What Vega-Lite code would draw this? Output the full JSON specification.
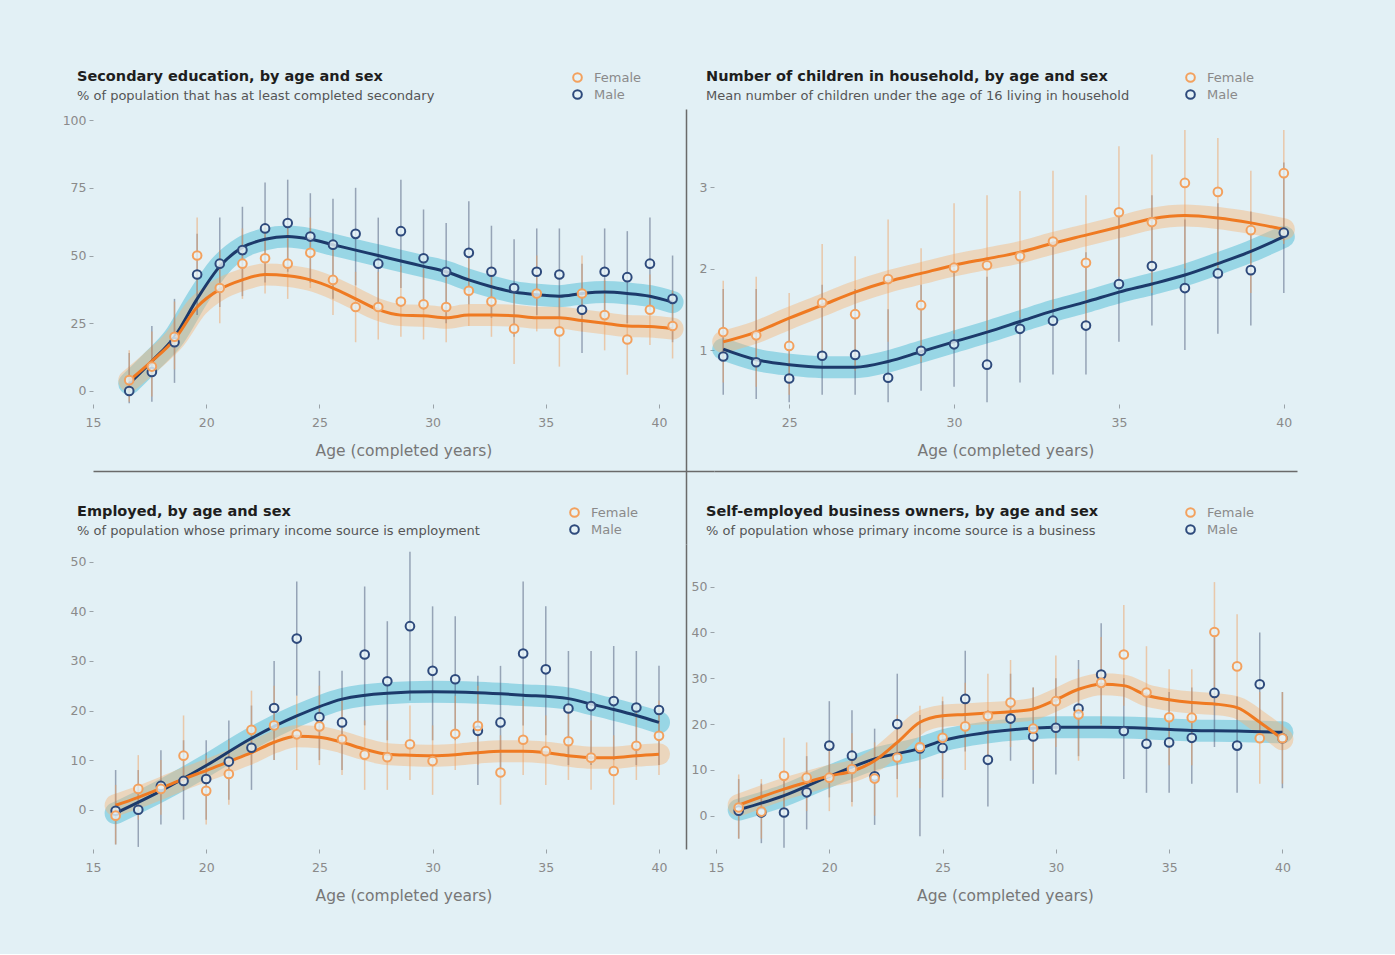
{
  "$schema": "https://vega.github.io/schema/vega-lite/v6.json",
  "background": "#e2f0f5",
  "padding": {"left": 62, "top": 68, "right": 98, "bottom": 50},
  "bounds": "flush",
  "columns": 2,
  "spacing": {"row": 0, "column": 0},
  "datasets": {
    "edu_pts": [
      {"age": 16.6, "sex": "Male", "v": 0, "lo": -4.5, "hi": 14},
      {"age": 17.6, "sex": "Male", "v": 7, "lo": -4, "hi": 24},
      {"age": 18.6, "sex": "Male", "v": 18, "lo": 3, "hi": 34},
      {"age": 19.6, "sex": "Male", "v": 43, "lo": 28, "hi": 58},
      {"age": 20.6, "sex": "Male", "v": 47, "lo": 31, "hi": 64},
      {"age": 21.6, "sex": "Male", "v": 52, "lo": 35, "hi": 68},
      {"age": 22.6, "sex": "Male", "v": 60, "lo": 40, "hi": 77},
      {"age": 23.6, "sex": "Male", "v": 62, "lo": 44, "hi": 78},
      {"age": 24.6, "sex": "Male", "v": 57, "lo": 40, "hi": 73},
      {"age": 25.6, "sex": "Male", "v": 54, "lo": 34, "hi": 71},
      {"age": 26.6, "sex": "Male", "v": 58, "lo": 39, "hi": 75},
      {"age": 27.6, "sex": "Male", "v": 47, "lo": 30, "hi": 64},
      {"age": 28.6, "sex": "Male", "v": 59, "lo": 38, "hi": 78},
      {"age": 29.6, "sex": "Male", "v": 49, "lo": 30, "hi": 67},
      {"age": 30.6, "sex": "Male", "v": 44, "lo": 25, "hi": 62},
      {"age": 31.6, "sex": "Male", "v": 51, "lo": 32, "hi": 70},
      {"age": 32.6, "sex": "Male", "v": 44, "lo": 27, "hi": 61},
      {"age": 33.6, "sex": "Male", "v": 38, "lo": 20, "hi": 56},
      {"age": 34.6, "sex": "Male", "v": 44, "lo": 28, "hi": 60},
      {"age": 35.6, "sex": "Male", "v": 43, "lo": 27, "hi": 60},
      {"age": 36.6, "sex": "Male", "v": 30, "lo": 14, "hi": 47},
      {"age": 37.6, "sex": "Male", "v": 44, "lo": 27, "hi": 60},
      {"age": 38.6, "sex": "Male", "v": 42, "lo": 25, "hi": 59},
      {"age": 39.6, "sex": "Male", "v": 47, "lo": 30, "hi": 64},
      {"age": 40.6, "sex": "Male", "v": 34, "lo": 18, "hi": 50},
      {"age": 16.6, "sex": "Female", "v": 4, "lo": -4, "hi": 15},
      {"age": 17.6, "sex": "Female", "v": 9, "lo": -2, "hi": 22},
      {"age": 18.6, "sex": "Female", "v": 20, "lo": 8, "hi": 33},
      {"age": 19.6, "sex": "Female", "v": 50, "lo": 36, "hi": 64},
      {"age": 20.6, "sex": "Female", "v": 38, "lo": 25, "hi": 52},
      {"age": 21.6, "sex": "Female", "v": 47, "lo": 34, "hi": 60},
      {"age": 22.6, "sex": "Female", "v": 49, "lo": 36, "hi": 62},
      {"age": 23.6, "sex": "Female", "v": 47, "lo": 34, "hi": 60},
      {"age": 24.6, "sex": "Female", "v": 51, "lo": 38, "hi": 64},
      {"age": 25.6, "sex": "Female", "v": 41, "lo": 28, "hi": 55},
      {"age": 26.6, "sex": "Female", "v": 31, "lo": 18, "hi": 44},
      {"age": 27.6, "sex": "Female", "v": 31, "lo": 19, "hi": 44},
      {"age": 28.6, "sex": "Female", "v": 33, "lo": 20, "hi": 46},
      {"age": 29.6, "sex": "Female", "v": 32, "lo": 19, "hi": 45},
      {"age": 30.6, "sex": "Female", "v": 31, "lo": 18, "hi": 44},
      {"age": 31.6, "sex": "Female", "v": 37, "lo": 24, "hi": 50},
      {"age": 32.6, "sex": "Female", "v": 33, "lo": 20, "hi": 46},
      {"age": 33.6, "sex": "Female", "v": 23, "lo": 10, "hi": 36},
      {"age": 34.6, "sex": "Female", "v": 36, "lo": 22, "hi": 50},
      {"age": 35.6, "sex": "Female", "v": 22, "lo": 9, "hi": 35},
      {"age": 36.6, "sex": "Female", "v": 36, "lo": 22, "hi": 50},
      {"age": 37.6, "sex": "Female", "v": 28, "lo": 15, "hi": 41},
      {"age": 38.6, "sex": "Female", "v": 19, "lo": 6, "hi": 32},
      {"age": 39.6, "sex": "Female", "v": 30, "lo": 17, "hi": 43},
      {"age": 40.6, "sex": "Female", "v": 24, "lo": 12, "hi": 37}
    ],
    "edu_fit": [
      {"age": 16.6, "sex": "Male", "v": 2.7}, {"age": 17.6, "sex": "Male", "v": 11}, {"age": 18.6, "sex": "Male", "v": 20},
      {"age": 19.6, "sex": "Male", "v": 34}, {"age": 20.6, "sex": "Male", "v": 46}, {"age": 21.6, "sex": "Male", "v": 53},
      {"age": 22.6, "sex": "Male", "v": 56}, {"age": 23.6, "sex": "Male", "v": 57}, {"age": 24.6, "sex": "Male", "v": 56},
      {"age": 25.6, "sex": "Male", "v": 54}, {"age": 26.6, "sex": "Male", "v": 52}, {"age": 27.6, "sex": "Male", "v": 50},
      {"age": 28.6, "sex": "Male", "v": 48}, {"age": 29.6, "sex": "Male", "v": 46}, {"age": 30.6, "sex": "Male", "v": 44},
      {"age": 31.6, "sex": "Male", "v": 41}, {"age": 32.6, "sex": "Male", "v": 38.5}, {"age": 33.6, "sex": "Male", "v": 36.5},
      {"age": 34.6, "sex": "Male", "v": 35.5}, {"age": 35.6, "sex": "Male", "v": 35}, {"age": 36.6, "sex": "Male", "v": 36},
      {"age": 37.6, "sex": "Male", "v": 36.5}, {"age": 38.6, "sex": "Male", "v": 36}, {"age": 39.6, "sex": "Male", "v": 35},
      {"age": 40.6, "sex": "Male", "v": 32.8},
      {"age": 16.6, "sex": "Female", "v": 3.8}, {"age": 17.6, "sex": "Female", "v": 11}, {"age": 18.6, "sex": "Female", "v": 19},
      {"age": 19.6, "sex": "Female", "v": 31}, {"age": 20.6, "sex": "Female", "v": 37.5}, {"age": 21.6, "sex": "Female", "v": 41},
      {"age": 22.6, "sex": "Female", "v": 43}, {"age": 23.6, "sex": "Female", "v": 42.5}, {"age": 24.6, "sex": "Female", "v": 41},
      {"age": 25.6, "sex": "Female", "v": 38}, {"age": 26.6, "sex": "Female", "v": 34}, {"age": 27.6, "sex": "Female", "v": 30},
      {"age": 28.6, "sex": "Female", "v": 28}, {"age": 29.6, "sex": "Female", "v": 27.8}, {"age": 30.6, "sex": "Female", "v": 27},
      {"age": 31.6, "sex": "Female", "v": 28}, {"age": 32.6, "sex": "Female", "v": 28}, {"age": 33.6, "sex": "Female", "v": 27.8},
      {"age": 34.6, "sex": "Female", "v": 27}, {"age": 35.6, "sex": "Female", "v": 27}, {"age": 36.6, "sex": "Female", "v": 26},
      {"age": 37.6, "sex": "Female", "v": 25}, {"age": 38.6, "sex": "Female", "v": 24}, {"age": 39.6, "sex": "Female", "v": 23.8},
      {"age": 40.6, "sex": "Female", "v": 23}
    ],
    "kids_pts": [
      {"age": 23, "sex": "Male", "v": 0.92, "lo": 0.45, "hi": 1.75},
      {"age": 24, "sex": "Male", "v": 0.85, "lo": 0.4, "hi": 1.75},
      {"age": 25, "sex": "Male", "v": 0.65, "lo": 0.36, "hi": 1.4},
      {"age": 26, "sex": "Male", "v": 0.93, "lo": 0.45, "hi": 1.8},
      {"age": 27, "sex": "Male", "v": 0.94, "lo": 0.45, "hi": 1.75},
      {"age": 28, "sex": "Male", "v": 0.66, "lo": 0.36, "hi": 1.5},
      {"age": 29, "sex": "Male", "v": 0.99, "lo": 0.5, "hi": 1.8},
      {"age": 30, "sex": "Male", "v": 1.07, "lo": 0.55, "hi": 2.0},
      {"age": 31, "sex": "Male", "v": 0.82, "lo": 0.36, "hi": 1.9},
      {"age": 32, "sex": "Male", "v": 1.26, "lo": 0.6, "hi": 2.2},
      {"age": 33, "sex": "Male", "v": 1.36, "lo": 0.7, "hi": 2.3},
      {"age": 34, "sex": "Male", "v": 1.3, "lo": 0.7, "hi": 2.2},
      {"age": 35, "sex": "Male", "v": 1.81, "lo": 1.1, "hi": 2.7},
      {"age": 36, "sex": "Male", "v": 2.03, "lo": 1.3, "hi": 2.9},
      {"age": 37, "sex": "Male", "v": 1.76, "lo": 1.0, "hi": 2.6},
      {"age": 38, "sex": "Male", "v": 1.94, "lo": 1.2, "hi": 2.8},
      {"age": 39, "sex": "Male", "v": 1.98, "lo": 1.3, "hi": 2.7},
      {"age": 40, "sex": "Male", "v": 2.44, "lo": 1.7, "hi": 3.3},
      {"age": 23, "sex": "Female", "v": 1.22, "lo": 0.6, "hi": 1.85},
      {"age": 24, "sex": "Female", "v": 1.18, "lo": 0.55, "hi": 1.9},
      {"age": 25, "sex": "Female", "v": 1.05, "lo": 0.45, "hi": 1.7},
      {"age": 26, "sex": "Female", "v": 1.58, "lo": 0.9, "hi": 2.3},
      {"age": 27, "sex": "Female", "v": 1.44, "lo": 0.75, "hi": 2.15},
      {"age": 28, "sex": "Female", "v": 1.87, "lo": 1.1, "hi": 2.6},
      {"age": 29, "sex": "Female", "v": 1.55, "lo": 0.85, "hi": 2.25},
      {"age": 30, "sex": "Female", "v": 2.01, "lo": 1.2, "hi": 2.8},
      {"age": 31, "sex": "Female", "v": 2.04, "lo": 1.2, "hi": 2.9},
      {"age": 32, "sex": "Female", "v": 2.15, "lo": 1.4, "hi": 2.95},
      {"age": 33, "sex": "Female", "v": 2.33, "lo": 1.5, "hi": 3.2},
      {"age": 34, "sex": "Female", "v": 2.07, "lo": 1.3, "hi": 2.9},
      {"age": 35, "sex": "Female", "v": 2.69, "lo": 1.9, "hi": 3.5},
      {"age": 36, "sex": "Female", "v": 2.57, "lo": 1.7, "hi": 3.4},
      {"age": 37, "sex": "Female", "v": 3.05, "lo": 2.0, "hi": 3.7},
      {"age": 38, "sex": "Female", "v": 2.94, "lo": 2.0, "hi": 3.6},
      {"age": 39, "sex": "Female", "v": 2.47, "lo": 1.7, "hi": 3.2},
      {"age": 40, "sex": "Female", "v": 3.17, "lo": 2.3, "hi": 3.7}
    ],
    "kids_fit": [
      {"age": 23, "sex": "Male", "v": 1.01}, {"age": 24, "sex": "Male", "v": 0.88}, {"age": 25, "sex": "Male", "v": 0.82},
      {"age": 26, "sex": "Male", "v": 0.79}, {"age": 27, "sex": "Male", "v": 0.79}, {"age": 28, "sex": "Male", "v": 0.86},
      {"age": 29, "sex": "Male", "v": 0.98}, {"age": 30, "sex": "Male", "v": 1.1}, {"age": 31, "sex": "Male", "v": 1.22},
      {"age": 32, "sex": "Male", "v": 1.35}, {"age": 33, "sex": "Male", "v": 1.48}, {"age": 34, "sex": "Male", "v": 1.59},
      {"age": 35, "sex": "Male", "v": 1.71}, {"age": 36, "sex": "Male", "v": 1.81}, {"age": 37, "sex": "Male", "v": 1.92},
      {"age": 38, "sex": "Male", "v": 2.06}, {"age": 39, "sex": "Male", "v": 2.21}, {"age": 40, "sex": "Male", "v": 2.39},
      {"age": 23, "sex": "Female", "v": 1.1}, {"age": 24, "sex": "Female", "v": 1.22}, {"age": 25, "sex": "Female", "v": 1.39},
      {"age": 26, "sex": "Female", "v": 1.55}, {"age": 27, "sex": "Female", "v": 1.71}, {"age": 28, "sex": "Female", "v": 1.84},
      {"age": 29, "sex": "Female", "v": 1.94}, {"age": 30, "sex": "Female", "v": 2.04}, {"age": 31, "sex": "Female", "v": 2.12},
      {"age": 32, "sex": "Female", "v": 2.2}, {"age": 33, "sex": "Female", "v": 2.31}, {"age": 34, "sex": "Female", "v": 2.41},
      {"age": 35, "sex": "Female", "v": 2.51}, {"age": 36, "sex": "Female", "v": 2.61}, {"age": 37, "sex": "Female", "v": 2.65},
      {"age": 38, "sex": "Female", "v": 2.62}, {"age": 39, "sex": "Female", "v": 2.56}, {"age": 40, "sex": "Female", "v": 2.48}
    ],
    "emp_pts": [
      {"age": 16, "sex": "Male", "v": -0.2, "lo": -7, "hi": 8},
      {"age": 17, "sex": "Male", "v": 0, "lo": -7.5, "hi": 8},
      {"age": 18, "sex": "Male", "v": 4.8, "lo": -3, "hi": 12},
      {"age": 19, "sex": "Male", "v": 5.8, "lo": -2, "hi": 14},
      {"age": 20, "sex": "Male", "v": 6.2, "lo": -2, "hi": 14},
      {"age": 21, "sex": "Male", "v": 9.7, "lo": 2, "hi": 18},
      {"age": 22, "sex": "Male", "v": 12.5, "lo": 4, "hi": 21},
      {"age": 23, "sex": "Male", "v": 20.5, "lo": 10, "hi": 30},
      {"age": 24, "sex": "Male", "v": 34.5, "lo": 23, "hi": 46},
      {"age": 25, "sex": "Male", "v": 18.7, "lo": 10, "hi": 28},
      {"age": 26, "sex": "Male", "v": 17.6, "lo": 8, "hi": 28},
      {"age": 27, "sex": "Male", "v": 31.3, "lo": 17, "hi": 45},
      {"age": 28, "sex": "Male", "v": 25.9, "lo": 14, "hi": 38},
      {"age": 29, "sex": "Male", "v": 37, "lo": 22, "hi": 52},
      {"age": 30, "sex": "Male", "v": 28, "lo": 14, "hi": 41},
      {"age": 31, "sex": "Male", "v": 26.3, "lo": 14, "hi": 39},
      {"age": 32, "sex": "Male", "v": 15.9, "lo": 5, "hi": 27},
      {"age": 33, "sex": "Male", "v": 17.6, "lo": 7, "hi": 29},
      {"age": 34, "sex": "Male", "v": 31.5, "lo": 17, "hi": 46},
      {"age": 35, "sex": "Male", "v": 28.3, "lo": 15, "hi": 41},
      {"age": 36, "sex": "Male", "v": 20.4, "lo": 9, "hi": 32},
      {"age": 37, "sex": "Male", "v": 20.9, "lo": 9, "hi": 32},
      {"age": 38, "sex": "Male", "v": 21.9, "lo": 10, "hi": 33},
      {"age": 39, "sex": "Male", "v": 20.6, "lo": 9, "hi": 32},
      {"age": 40, "sex": "Male", "v": 20.1, "lo": 9, "hi": 29},
      {"age": 16, "sex": "Female", "v": -1.2, "lo": -7, "hi": 5},
      {"age": 17, "sex": "Female", "v": 4.2, "lo": -2, "hi": 11},
      {"age": 18, "sex": "Female", "v": 4.2, "lo": -1, "hi": 10},
      {"age": 19, "sex": "Female", "v": 10.9, "lo": 4, "hi": 19},
      {"age": 20, "sex": "Female", "v": 3.8, "lo": -3, "hi": 11},
      {"age": 21, "sex": "Female", "v": 7.2, "lo": 1, "hi": 14},
      {"age": 22, "sex": "Female", "v": 16.1, "lo": 9, "hi": 24},
      {"age": 23, "sex": "Female", "v": 17, "lo": 10, "hi": 25},
      {"age": 24, "sex": "Female", "v": 15.2, "lo": 8, "hi": 23},
      {"age": 25, "sex": "Female", "v": 16.8, "lo": 9, "hi": 25},
      {"age": 26, "sex": "Female", "v": 14.2, "lo": 7, "hi": 22},
      {"age": 27, "sex": "Female", "v": 11.1, "lo": 4, "hi": 18},
      {"age": 28, "sex": "Female", "v": 10.6, "lo": 4, "hi": 18},
      {"age": 29, "sex": "Female", "v": 13.2, "lo": 6, "hi": 21},
      {"age": 30, "sex": "Female", "v": 9.8, "lo": 3, "hi": 17},
      {"age": 31, "sex": "Female", "v": 15.3, "lo": 8, "hi": 23},
      {"age": 32, "sex": "Female", "v": 16.9, "lo": 9, "hi": 25},
      {"age": 33, "sex": "Female", "v": 7.5, "lo": 1, "hi": 15},
      {"age": 34, "sex": "Female", "v": 14.1, "lo": 7, "hi": 22},
      {"age": 35, "sex": "Female", "v": 11.8, "lo": 5, "hi": 19},
      {"age": 36, "sex": "Female", "v": 13.8, "lo": 6, "hi": 21},
      {"age": 37, "sex": "Female", "v": 10.5, "lo": 4, "hi": 18},
      {"age": 38, "sex": "Female", "v": 7.8, "lo": 1, "hi": 15},
      {"age": 39, "sex": "Female", "v": 12.9, "lo": 6, "hi": 20},
      {"age": 40, "sex": "Female", "v": 14.9, "lo": 7, "hi": 22}
    ],
    "emp_fit": [
      {"age": 16, "sex": "Male", "v": -0.7}, {"age": 18, "sex": "Male", "v": 3.8}, {"age": 20, "sex": "Male", "v": 8.9},
      {"age": 22, "sex": "Male", "v": 14.4}, {"age": 24, "sex": "Male", "v": 18.9}, {"age": 26, "sex": "Male", "v": 22.3},
      {"age": 28, "sex": "Male", "v": 23.5}, {"age": 30, "sex": "Male", "v": 23.8}, {"age": 32, "sex": "Male", "v": 23.6},
      {"age": 34, "sex": "Male", "v": 23.1}, {"age": 36, "sex": "Male", "v": 22.4}, {"age": 37, "sex": "Male", "v": 21.3},
      {"age": 38, "sex": "Male", "v": 20.2}, {"age": 39, "sex": "Male", "v": 19}, {"age": 40, "sex": "Male", "v": 17.6},
      {"age": 16, "sex": "Female", "v": 0.9}, {"age": 17, "sex": "Female", "v": 2.5}, {"age": 18, "sex": "Female", "v": 4.3},
      {"age": 19, "sex": "Female", "v": 6.2}, {"age": 20, "sex": "Female", "v": 7.9}, {"age": 21, "sex": "Female", "v": 9.7},
      {"age": 22, "sex": "Female", "v": 11.5}, {"age": 23, "sex": "Female", "v": 13.6}, {"age": 24, "sex": "Female", "v": 14.8},
      {"age": 25, "sex": "Female", "v": 14.6}, {"age": 26, "sex": "Female", "v": 13.6}, {"age": 27, "sex": "Female", "v": 12.2},
      {"age": 28, "sex": "Female", "v": 11.2}, {"age": 29, "sex": "Female", "v": 11}, {"age": 30, "sex": "Female", "v": 10.9},
      {"age": 31, "sex": "Female", "v": 11.1}, {"age": 32, "sex": "Female", "v": 11.5}, {"age": 33, "sex": "Female", "v": 11.8},
      {"age": 34, "sex": "Female", "v": 11.8}, {"age": 35, "sex": "Female", "v": 11.5}, {"age": 36, "sex": "Female", "v": 10.9},
      {"age": 37, "sex": "Female", "v": 10.5}, {"age": 38, "sex": "Female", "v": 10.5}, {"age": 39, "sex": "Female", "v": 10.9},
      {"age": 40, "sex": "Female", "v": 11.2}
    ],
    "biz_pts": [
      {"age": 16, "sex": "Male", "v": 1.1, "lo": -5, "hi": 8},
      {"age": 17, "sex": "Male", "v": 0.7, "lo": -6, "hi": 7},
      {"age": 18, "sex": "Male", "v": 0.7, "lo": -7, "hi": 8},
      {"age": 19, "sex": "Male", "v": 5.1, "lo": -3, "hi": 13},
      {"age": 20, "sex": "Male", "v": 15.3, "lo": 4, "hi": 25},
      {"age": 21, "sex": "Male", "v": 13.1, "lo": 3, "hi": 23},
      {"age": 22, "sex": "Male", "v": 8.6, "lo": -2, "hi": 19},
      {"age": 23, "sex": "Male", "v": 20, "lo": 8, "hi": 31},
      {"age": 24, "sex": "Male", "v": 14.7, "lo": -4.5, "hi": 22},
      {"age": 25, "sex": "Male", "v": 14.8, "lo": 4, "hi": 25},
      {"age": 26, "sex": "Male", "v": 25.5, "lo": 14, "hi": 36},
      {"age": 27, "sex": "Male", "v": 12.2, "lo": 2, "hi": 23},
      {"age": 28, "sex": "Male", "v": 21.2, "lo": 12, "hi": 31},
      {"age": 29, "sex": "Male", "v": 17.3, "lo": 7, "hi": 28},
      {"age": 30, "sex": "Male", "v": 19.2, "lo": 9, "hi": 30},
      {"age": 31, "sex": "Male", "v": 23.4, "lo": 13, "hi": 34},
      {"age": 32, "sex": "Male", "v": 30.8, "lo": 20, "hi": 42},
      {"age": 33, "sex": "Male", "v": 18.5, "lo": 8, "hi": 30},
      {"age": 34, "sex": "Male", "v": 15.7, "lo": 5, "hi": 27},
      {"age": 35, "sex": "Male", "v": 16, "lo": 5, "hi": 27},
      {"age": 36, "sex": "Male", "v": 17, "lo": 7, "hi": 28},
      {"age": 37, "sex": "Male", "v": 26.8, "lo": 15, "hi": 39},
      {"age": 38, "sex": "Male", "v": 15.3, "lo": 5, "hi": 26},
      {"age": 39, "sex": "Male", "v": 28.7, "lo": 17, "hi": 40},
      {"age": 40, "sex": "Male", "v": 16.9, "lo": 6, "hi": 27},
      {"age": 16, "sex": "Female", "v": 1.8, "lo": -5, "hi": 9},
      {"age": 17, "sex": "Female", "v": 0.9, "lo": -5, "hi": 8},
      {"age": 18, "sex": "Female", "v": 8.7, "lo": 1, "hi": 17},
      {"age": 19, "sex": "Female", "v": 8.3, "lo": 1, "hi": 16},
      {"age": 20, "sex": "Female", "v": 8.3, "lo": 1, "hi": 16},
      {"age": 21, "sex": "Female", "v": 10.2, "lo": 2, "hi": 18},
      {"age": 22, "sex": "Female", "v": 8.1, "lo": 0, "hi": 16},
      {"age": 23, "sex": "Female", "v": 12.7, "lo": 4, "hi": 22},
      {"age": 24, "sex": "Female", "v": 15, "lo": 6, "hi": 24},
      {"age": 25, "sex": "Female", "v": 17, "lo": 8, "hi": 26},
      {"age": 26, "sex": "Female", "v": 19.5, "lo": 10, "hi": 29},
      {"age": 27, "sex": "Female", "v": 21.8, "lo": 12, "hi": 31},
      {"age": 28, "sex": "Female", "v": 24.7, "lo": 15, "hi": 34},
      {"age": 29, "sex": "Female", "v": 19, "lo": 10, "hi": 28},
      {"age": 30, "sex": "Female", "v": 25, "lo": 15, "hi": 35},
      {"age": 31, "sex": "Female", "v": 22.1, "lo": 12, "hi": 32},
      {"age": 32, "sex": "Female", "v": 29, "lo": 19, "hi": 39},
      {"age": 33, "sex": "Female", "v": 35.2, "lo": 24, "hi": 46},
      {"age": 34, "sex": "Female", "v": 26.9, "lo": 16, "hi": 37},
      {"age": 35, "sex": "Female", "v": 21.5, "lo": 11, "hi": 32},
      {"age": 36, "sex": "Female", "v": 21.4, "lo": 11, "hi": 32},
      {"age": 37, "sex": "Female", "v": 40.1, "lo": 28, "hi": 51},
      {"age": 38, "sex": "Female", "v": 32.6, "lo": 21, "hi": 44},
      {"age": 39, "sex": "Female", "v": 16.9, "lo": 7, "hi": 27},
      {"age": 40, "sex": "Female", "v": 16.9, "lo": 7, "hi": 27}
    ],
    "biz_fit": [
      {"age": 16, "sex": "Male", "v": 1.3}, {"age": 18, "sex": "Male", "v": 4.4}, {"age": 20, "sex": "Male", "v": 8.6},
      {"age": 22, "sex": "Male", "v": 12.4}, {"age": 24, "sex": "Male", "v": 14.7}, {"age": 25, "sex": "Male", "v": 16.4},
      {"age": 27, "sex": "Male", "v": 18.2}, {"age": 29, "sex": "Male", "v": 19.1}, {"age": 30, "sex": "Male", "v": 19.3},
      {"age": 32, "sex": "Male", "v": 19.3}, {"age": 34, "sex": "Male", "v": 19.1}, {"age": 36, "sex": "Male", "v": 18.6},
      {"age": 38, "sex": "Male", "v": 18.5}, {"age": 40, "sex": "Male", "v": 18.2},
      {"age": 16, "sex": "Female", "v": 2.3}, {"age": 18, "sex": "Female", "v": 5.8}, {"age": 19, "sex": "Female", "v": 7.3},
      {"age": 20, "sex": "Female", "v": 8.7}, {"age": 21, "sex": "Female", "v": 9.7}, {"age": 22, "sex": "Female", "v": 12},
      {"age": 23, "sex": "Female", "v": 16}, {"age": 24, "sex": "Female", "v": 20.4}, {"age": 25, "sex": "Female", "v": 21.8},
      {"age": 26, "sex": "Female", "v": 22.1}, {"age": 27, "sex": "Female", "v": 22.4}, {"age": 28, "sex": "Female", "v": 22.7},
      {"age": 29, "sex": "Female", "v": 23.3}, {"age": 30, "sex": "Female", "v": 25.3}, {"age": 31, "sex": "Female", "v": 27.6},
      {"age": 32, "sex": "Female", "v": 28.7}, {"age": 33, "sex": "Female", "v": 28.4}, {"age": 34, "sex": "Female", "v": 26.3},
      {"age": 35, "sex": "Female", "v": 25.3}, {"age": 36, "sex": "Female", "v": 24.7}, {"age": 37, "sex": "Female", "v": 24.4},
      {"age": 38, "sex": "Female", "v": 23.6}, {"age": 39, "sex": "Female", "v": 20.4}, {"age": 40, "sex": "Female", "v": 16.7}
    ]
  },
  "concat": [
    {
      "width": 621, "height": 435,
      "title": {"text": "Secondary education, by age and sex", "subtitle": "% of population that has at least completed secondary", "dx": -16, "dy": 43},
      "layer": [
        {"data": {"name": "edu_fit"}, "mark": {"type": "line", "strokeWidth": 22, "opacity": 0.45, "interpolate": "monotone", "strokeCap": "round"},
         "encoding": {
           "x": {"field": "age", "type": "quantitative", "scale": {"domain": [15, 42.43], "nice": false, "zero": false}, "axis": {"values": [15, 20, 25, 30, 35, 40], "title": "Age (completed years)", "offset": -140}},
           "y": {"field": "v", "type": "quantitative", "scale": {"domain": [-56.5, 104.1], "nice": false, "zero": false}, "axis": {"values": [0, 25, 50, 75, 100], "title": null}},
           "color": {"field": "sex", "type": "nominal", "scale": {"domain": ["Female", "Male"], "range": ["#f6b67a", "#3fb6d3"]}, "legend": null}}},
        {"data": {"name": "edu_pts"}, "mark": {"type": "rule", "strokeWidth": 1.5, "opacity": 0.5},
         "encoding": {
           "x": {"field": "age", "type": "quantitative", "axis": {"orient": "bottom", "offset": -73, "labels": false, "ticks": false, "domain": true, "domainColor": "#6a6a6a", "domainWidth": 1.5, "title": null}},
           "y": {"field": "lo", "type": "quantitative", "axis": {"orient": "right", "offset": -28, "labels": false, "ticks": false, "domain": true, "domainColor": "#6a6a6a", "domainWidth": 1.5, "title": null}}, "y2": {"field": "hi"},
           "color": {"field": "sex", "type": "nominal", "scale": {"domain": ["Female", "Male"], "range": ["#f0a060", "#4a5878"]}, "legend": null}}},
        {"data": {"name": "edu_fit"}, "mark": {"type": "line", "strokeWidth": 3, "interpolate": "monotone"},
         "encoding": {"x": {"field": "age", "type": "quantitative", "axis": null}, "y": {"field": "v", "type": "quantitative", "axis": null},
           "color": {"field": "sex", "type": "nominal", "scale": {"domain": ["Female", "Male"], "range": ["#ef7a22", "#1c3a6b"]}, "legend": null}}},
        {"data": {"name": "edu_pts"}, "mark": {"type": "point", "filled": false, "fill": "#e6f3f7", "fillOpacity": 0.8, "strokeWidth": 2, "size": 75},
         "encoding": {"x": {"field": "age", "type": "quantitative", "axis": null}, "y": {"field": "v", "type": "quantitative", "axis": null},
           "color": {"field": "sex", "type": "nominal", "scale": {"domain": ["Female", "Male"], "range": ["#f3a15e", "#2e4a7c"]}, "legend": {"title": null, "legendX": 478}}}}
      ],
      "resolve": {"scale": {"color": "independent"}, "axis": {"x": "independent", "y": "independent"}}
    },
    {
      "width": 583, "height": 435,
      "title": {"text": "Number of children in household, by age and sex", "subtitle": "Mean number of children under the age of 16 living in household", "dx": -8, "dy": 43},
      "layer": [
        {"data": {"name": "kids_fit"}, "mark": {"type": "line", "strokeWidth": 22, "opacity": 0.45, "interpolate": "monotone", "strokeCap": "round"},
         "encoding": {
           "x": {"field": "age", "type": "quantitative", "scale": {"domain": [22.72, 40.4], "nice": false, "zero": false}, "axis": {"values": [25, 30, 35, 40], "title": "Age (completed years)", "offset": -140}},
           "y": {"field": "v", "type": "quantitative", "scale": {"domain": [-1.38, 3.957], "nice": false, "zero": false}, "axis": {"values": [1, 2, 3], "format": "d", "title": null}},
           "color": {"field": "sex", "type": "nominal", "scale": {"domain": ["Female", "Male"], "range": ["#f6b67a", "#3fb6d3"]}, "legend": null}}},
        {"data": {"name": "kids_pts"}, "mark": {"type": "rule", "strokeWidth": 1.5, "opacity": 0.5},
         "encoding": {
           "x": {"field": "age", "type": "quantitative", "axis": {"orient": "bottom", "offset": -73, "labels": false, "ticks": false, "domain": true, "domainColor": "#6a6a6a", "domainWidth": 1.5, "title": null}},
           "y": {"field": "lo", "type": "quantitative"}, "y2": {"field": "hi"},
           "color": {"field": "sex", "type": "nominal", "scale": {"domain": ["Female", "Male"], "range": ["#f0a060", "#4a5878"]}, "legend": null}}},
        {"data": {"name": "kids_fit"}, "mark": {"type": "line", "strokeWidth": 3, "interpolate": "monotone"},
         "encoding": {"x": {"field": "age", "type": "quantitative", "axis": null}, "y": {"field": "v", "type": "quantitative"},
           "color": {"field": "sex", "type": "nominal", "scale": {"domain": ["Female", "Male"], "range": ["#ef7a22", "#1c3a6b"]}, "legend": null}}},
        {"data": {"name": "kids_pts"}, "mark": {"type": "point", "filled": false, "fill": "#e6f3f7", "fillOpacity": 0.8, "strokeWidth": 2, "size": 75},
         "encoding": {"x": {"field": "age", "type": "quantitative", "axis": null}, "y": {"field": "v", "type": "quantitative"},
           "color": {"field": "sex", "type": "nominal", "scale": {"domain": ["Female", "Male"], "range": ["#f3a15e", "#2e4a7c"]}, "legend": {"title": null, "legendX": 470}}}}
      ],
      "resolve": {"scale": {"color": "independent"}, "axis": {"x": "independent"}}
    },
    {
      "width": 621, "height": 305,
      "title": {"text": "Employed, by age and sex", "subtitle": "% of population whose primary income source is employment", "dx": -16, "dy": 43},
      "layer": [
        {"data": {"name": "emp_fit"}, "mark": {"type": "line", "strokeWidth": 22, "opacity": 0.45, "interpolate": "monotone", "strokeCap": "round"},
         "encoding": {
           "x": {"field": "age", "type": "quantitative", "scale": {"domain": [15, 42.43], "nice": false, "zero": false}, "axis": {"values": [15, 20, 25, 30, 35, 40], "title": "Age (completed years)"}},
           "y": {"field": "v", "type": "quantitative", "scale": {"domain": [-7.92, 53.57], "nice": false, "zero": false}, "axis": {"values": [0, 10, 20, 30, 40, 50], "title": null}},
           "color": {"field": "sex", "type": "nominal", "scale": {"domain": ["Female", "Male"], "range": ["#f6b67a", "#3fb6d3"]}, "legend": null}}},
        {"data": {"name": "emp_pts"}, "mark": {"type": "rule", "strokeWidth": 1.5, "opacity": 0.5},
         "encoding": {
           "x": {"field": "age", "type": "quantitative"},
           "y": {"field": "lo", "type": "quantitative", "axis": {"orient": "right", "offset": -28, "labels": false, "ticks": false, "domain": true, "domainColor": "#6a6a6a", "domainWidth": 1.5, "title": null}}, "y2": {"field": "hi"},
           "color": {"field": "sex", "type": "nominal", "scale": {"domain": ["Female", "Male"], "range": ["#f0a060", "#4a5878"]}, "legend": null}}},
        {"data": {"name": "emp_fit"}, "mark": {"type": "line", "strokeWidth": 3, "interpolate": "monotone"},
         "encoding": {"x": {"field": "age", "type": "quantitative"}, "y": {"field": "v", "type": "quantitative", "axis": null},
           "color": {"field": "sex", "type": "nominal", "scale": {"domain": ["Female", "Male"], "range": ["#ef7a22", "#1c3a6b"]}, "legend": null}}},
        {"data": {"name": "emp_pts"}, "mark": {"type": "point", "filled": false, "fill": "#e6f3f7", "fillOpacity": 0.8, "strokeWidth": 2, "size": 75},
         "encoding": {"x": {"field": "age", "type": "quantitative"}, "y": {"field": "v", "type": "quantitative", "axis": null},
           "color": {"field": "sex", "type": "nominal", "scale": {"domain": ["Female", "Male"], "range": ["#f3a15e", "#2e4a7c"]}, "legend": {"title": null, "legendX": 475}}}}
      ],
      "resolve": {"scale": {"color": "independent"}, "axis": {"y": "independent"}}
    },
    {
      "width": 582, "height": 305,
      "title": {"text": "Self-employed business owners, by age and sex", "subtitle": "% of population whose primary income source is a business", "dx": -8, "dy": 43},
      "encoding": {
        "x": {"field": "age", "type": "quantitative", "scale": {"domain": [14.91, 40.6], "nice": false, "zero": false}, "axis": {"values": [15, 20, 25, 30, 35, 40], "title": "Age (completed years)"}}
      },
      "layer": [
        {"data": {"name": "biz_fit"}, "mark": {"type": "line", "strokeWidth": 22, "opacity": 0.45, "interpolate": "monotone", "strokeCap": "round"},
         "encoding": {"y": {"field": "v", "type": "quantitative", "scale": {"domain": [-7.27, 59.32], "nice": false, "zero": false}, "axis": {"values": [0, 10, 20, 30, 40, 50], "title": null}},
           "color": {"field": "sex", "type": "nominal", "scale": {"domain": ["Female", "Male"], "range": ["#f6b67a", "#3fb6d3"]}, "legend": null}}},
        {"data": {"name": "biz_pts"}, "mark": {"type": "rule", "strokeWidth": 1.5, "opacity": 0.5},
         "encoding": {"y": {"field": "lo", "type": "quantitative"}, "y2": {"field": "hi"},
           "color": {"field": "sex", "type": "nominal", "scale": {"domain": ["Female", "Male"], "range": ["#f0a060", "#4a5878"]}, "legend": null}}},
        {"data": {"name": "biz_fit"}, "mark": {"type": "line", "strokeWidth": 3, "interpolate": "monotone"},
         "encoding": {"y": {"field": "v", "type": "quantitative"},
           "color": {"field": "sex", "type": "nominal", "scale": {"domain": ["Female", "Male"], "range": ["#ef7a22", "#1c3a6b"]}, "legend": null}}},
        {"data": {"name": "biz_pts"}, "mark": {"type": "point", "filled": false, "fill": "#e6f3f7", "fillOpacity": 0.8, "strokeWidth": 2, "size": 75},
         "encoding": {"y": {"field": "v", "type": "quantitative"},
           "color": {"field": "sex", "type": "nominal", "scale": {"domain": ["Female", "Male"], "range": ["#f3a15e", "#2e4a7c"]}, "legend": {"title": null, "legendX": 470}}}}
      ],
      "resolve": {"scale": {"color": "independent"}}
    }
  ],
  "config": {
    "font": "DejaVu Sans",
    "view": {"stroke": null},
    "title": {"anchor": "start", "frame": "group", "fontSize": 14.5, "fontWeight": "bold", "color": "#1e1e1e", "subtitleFontSize": 13, "subtitleColor": "#555555", "subtitlePadding": 6, "offset": 10},
    "axis": {"grid": false, "domain": false, "tickColor": "#9aa3a8", "tickSize": 4, "labelColor": "#8a8a8a", "labelFontSize": 12.5, "labelFlush": false, "titleColor": "#777777", "titleFontSize": 15.5, "titleFontWeight": "normal"},
    "axisX": {"labelPadding": 8, "titlePadding": 15},
    "axisY": {"labelPadding": 3},
    "legend": {"orient": "none", "legendX": 475, "legendY": -38, "labelColor": "#8a8a8a", "labelFontSize": 13, "labelOffset": 10, "symbolSize": 75, "symbolStrokeWidth": 2, "rowPadding": 0}
  }
}
